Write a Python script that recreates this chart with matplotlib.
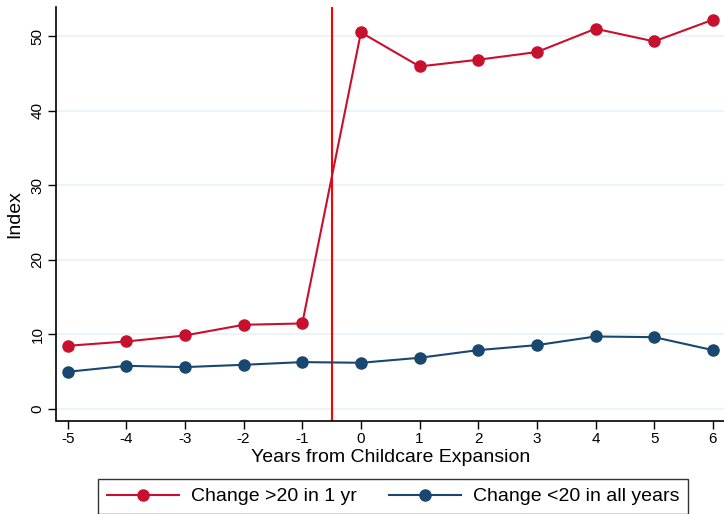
import matplotlib
matplotlib.use("Agg")
import matplotlib.pyplot as plt
from matplotlib.lines import Line2D

plt.rcParams['font.family'] = ['Liberation Sans', 'DejaVu Sans']

years = [-5, -4, -3, -2, -1, 0, 1, 2, 3, 4, 5, 6]
change_gt20 = [8.46, 9.04, 9.85, 11.28, 11.46, 50.54, 45.97, 46.87, 47.9, 51.03, 49.33, 52.24]
change_lt20 = [4.97, 5.77, 5.6, 5.91, 6.27, 6.18, 6.85, 7.88, 8.55, 9.71, 9.62, 7.88]
yticks = [0, 10, 20, 30, 40, 50]
labels = ["Change >20 in 1 yr", "Change <20 in all years"]
event_line = -0.5

red = "#C8102E"
navy = "#1A476F"

fig = plt.figure(figsize=(7.24, 5.14), dpi=100)
ax = fig.add_axes([56.5/724, 1 - 420.5/514, (724 - 56.5)/724, (420.5 - 7)/514])

for y in yticks:
    ax.axhline(y, color="#EAF2F3", lw=1.2, zorder=0)

ax.plot(years, change_gt20, color=red, lw=1.5, marker="o", ms=8, zorder=3, label=labels[0])
ax.plot(years, change_lt20, color=navy, lw=1.5, marker="o", ms=8, zorder=3, label=labels[1])
ax.axvline(event_line, color="#FF0000", lw=1.5, zorder=2)

ax.set_xlim(-5.19, 6.19)
ax.set_ylim(-1.57, 53.95)
ax.set_xticks(years)
ax.set_xticklabels([str(y) for y in years])
ax.set_yticks(yticks)
ax.set_yticklabels([str(y) for y in yticks], rotation=90, va="center")
ax.tick_params(axis="both", labelsize=11, length=5.5, width=1, color="black")
ax.tick_params(axis="y", pad=3)
ax.tick_params(axis="x", pad=3)

for s in ["top", "right"]:
    ax.spines[s].set_visible(False)
for s in ["left", "bottom"]:
    ax.spines[s].set_linewidth(1.2)
    ax.spines[s].set_color("black")

ax.set_xlabel("Years from Childcare Expansion", fontsize=14, labelpad=2)
ax.set_ylabel("Index", fontsize=14, labelpad=5)

handles = [Line2D([0], [0], color=red, lw=1.5, marker="o", ms=8),
           Line2D([0], [0], color=navy, lw=1.5, marker="o", ms=8)]
leg = fig.legend(handles, labels, loc="upper left", bbox_to_anchor=(98/724, 1 - 479/514),
                 ncol=2, fontsize=14, frameon=True, fancybox=False, edgecolor="black",
                 handlelength=3.7, columnspacing=1.65, borderpad=0.45, handletextpad=0.62,
                 borderaxespad=0)
leg.get_frame().set_linewidth(1.0)

fig.savefig("out.png", dpi=100)
